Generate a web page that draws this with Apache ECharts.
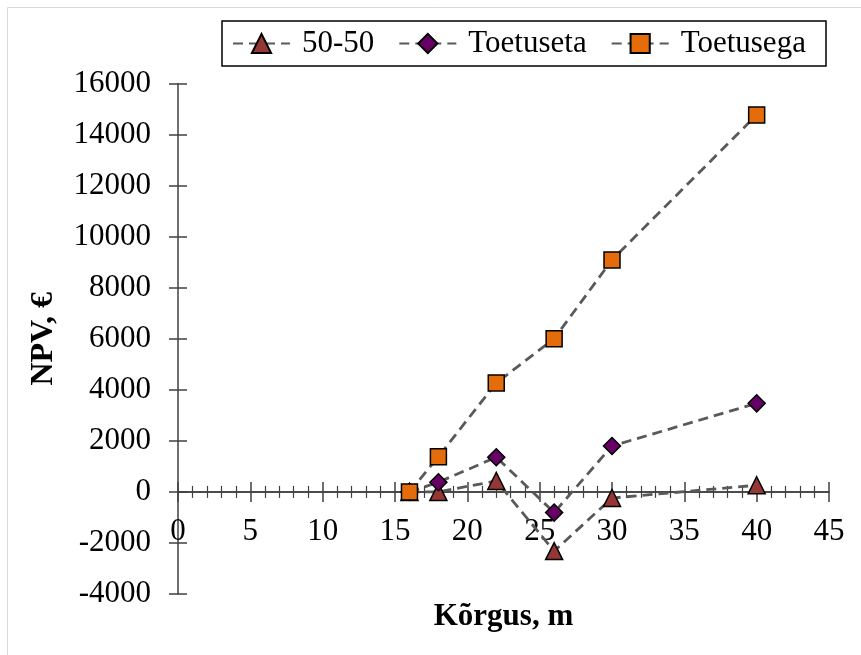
<!DOCTYPE html>
<html>
<head>
<meta charset="utf-8">
<title>NPV vs Kõrgus</title>
<script src="https://cdn.jsdelivr.net/npm/echarts@6/dist/echarts.min.js"></script>
<style>
  html, body { margin: 0; padding: 0; background: #fff; }
  #chart { width: 861px; height: 655px; }
</style>
</head>
<body>
<div id="chart"></div>
<script>
// Tower height (m) and net present value (€) for three financing options
const heights = [16, 18, 22, 26, 30, 40];
const npv5050 = [0, 0, 430, -2320, -240, 260];
const npvToetuseta = [0, 380, 1360, -810, 1800, 3470];
const npvToetusega = [0, 1380, 4270, 6000, 9090, 14770];

const seriesNames = ['50-50', 'Toetuseta', 'Toetusega'];

const FONT = "'Liberation Serif', 'Times New Roman', serif";
const AXIS_COLOR = '#404040';
const LINE_COLOR = '#595959';

// plot area
const W = 861, H = 655;
const GRID = { left: 178, right: 32, top: 83.5, bottom: 61 };
const Y_MIN = -4000, Y_MAX = 16000;
// lift the x axis from the bottom edge up to the y = 0 line
const plotH = H - GRID.top - GRID.bottom;
const xAxisLift = -plotH * (0 - Y_MIN) / (Y_MAX - Y_MIN);

function pairs(ys) {
  return heights.map((h, i) => [h, ys[i]]);
}

function lineSeries(name, ys, symbol, size, fill) {
  return {
    name: name,
    type: 'line',
    xAxisIndex: 0,
    yAxisIndex: 0,
    data: pairs(ys),
    symbol: symbol,
    symbolSize: size,
    showAllSymbol: true,
    lineStyle: { color: LINE_COLOR, width: 2.8, type: [10, 6] },
    itemStyle: { color: fill, borderColor: '#000', borderWidth: 1.5 },
    emphasis: { disabled: true },
    animation: false
  };
}

const plainNumber = v => String(v);

const xCommon = {
  type: 'value',
  min: 0, max: 45, interval: 5,
  position: 'bottom',
  offset: xAxisLift,
  axisLine: { onZero: false, lineStyle: { color: AXIS_COLOR, width: 1.5 } },
  splitLine: { show: false },
  minorSplitLine: { show: false }
};
const yCommon = {
  type: 'value',
  min: Y_MIN, max: Y_MAX, interval: 2000,
  position: 'left',
  splitLine: { show: false }
};

const chart = echarts.init(document.getElementById('chart'), null, { renderer: 'canvas' });

chart.setOption({
  animation: false,
  textStyle: { fontFamily: FONT },
  grid: Object.assign({ containLabel: false, outerBoundsMode: 'none' }, GRID),
  graphic: [
    {
      type: 'rect', silent: true, z: -10,
      shape: { x: 7.5, y: 7.5, width: 900, height: 700 },
      style: { fill: 'none', stroke: '#d9d9d9', lineWidth: 1 }
    },
    {
      type: 'rect', silent: true,
      shape: { x: 222, y: 21, width: 604, height: 45 },
      style: { fill: '#fff', stroke: '#000', lineWidth: 1.5 }
    }
  ],
  legend: {
    data: seriesNames,
    left: 232, top: 28,
    itemWidth: 57, itemHeight: 24, itemGap: 24,
    padding: 0,
    textStyle: { fontFamily: FONT, fontSize: 31, color: '#000', padding: [0, 0, 0, 7] },
    selectedMode: false
  },
  xAxis: [
    Object.assign({}, xCommon, {
      axisTick: { show: true, inside: true, length: 10, lineStyle: { color: AXIS_COLOR, width: 1.5 } },
      minorTick: { show: true, splitNumber: 5, length: 6, lineStyle: { color: AXIS_COLOR, width: 1.2 } },
      axisLabel: { show: true, margin: 24, fontFamily: FONT, fontSize: 31, color: '#000', showMinLabel: true, showMaxLabel: true, formatter: plainNumber },
      name: 'Kõrgus, m',
      nameLocation: 'middle',
      nameGap: 110,
      nameTextStyle: { fontFamily: FONT, fontSize: 31, fontWeight: 'bold', color: '#000' }
    }),
    Object.assign({}, xCommon, {
      axisTick: { show: true, inside: false, length: 10, lineStyle: { color: AXIS_COLOR, width: 1.5 } },
      minorTick: { show: true, splitNumber: 5, length: 6, lineStyle: { color: AXIS_COLOR, width: 1.2 } },
      axisLabel: { show: false }
    })
  ],
  yAxis: [
    Object.assign({}, yCommon, {
      axisLine: { show: true, onZero: false, lineStyle: { color: AXIS_COLOR, width: 1.5 } },
      axisTick: { show: true, inside: false, length: 9, lineStyle: { color: AXIS_COLOR, width: 1.5 } },
      axisLabel: { show: true, margin: 27, fontFamily: FONT, fontSize: 31, color: '#000', formatter: plainNumber },
      name: 'NPV, €',
      nameLocation: 'middle',
      nameGap: 118,
      nameRotate: 90,
      nameTextStyle: { fontFamily: FONT, fontSize: 32, fontWeight: 'bold', color: '#000' }
    }),
    Object.assign({}, yCommon, {
      axisLine: { show: false },
      axisTick: { show: true, inside: true, length: 9, lineStyle: { color: AXIS_COLOR, width: 1.5 } },
      axisLabel: { show: false }
    })
  ],
  series: [
    lineSeries(seriesNames[0], npv5050, 'triangle', 17, '#953735'),
    lineSeries(seriesNames[1], npvToetuseta, 'diamond', 17, '#660066'),
    lineSeries(seriesNames[2], npvToetusega, 'rect', 16, '#E46C0A')
  ]
});
</script>
</body>
</html>
